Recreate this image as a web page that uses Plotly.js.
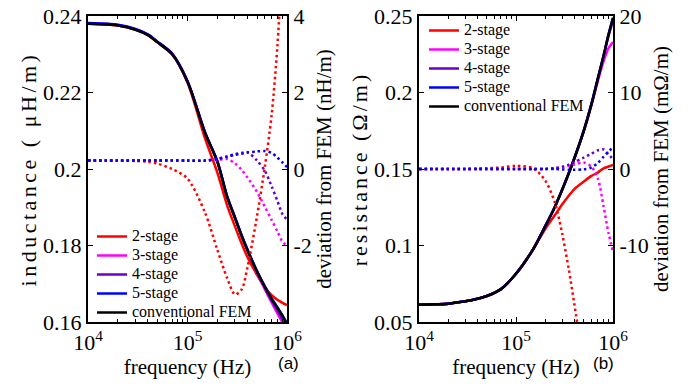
<!DOCTYPE html>
<html>
<head>
<meta charset="utf-8">
<script src="https://cdn.plot.ly/plotly-3.0.1.min.js"></script>
<style>
html,body{margin:0;padding:0;background:#fff;}
#chart{width:694px;height:390px;}
</style>
</head>
<body>
<div id="chart"></div>
<script>
// ---------- data ----------
const freq = [1e4,1.5e4,2e4,3e4,4e4,5e4,7e4,1e5,1.5e5,2e5,2.5e5,3e5,3.5e5,4e5,5e5,6e5,7e5,8e5,9e5,1e6];

// inductance (uH/m)
const L_fem = [0.2380,0.2378,0.2375,0.2364,0.2350,0.2331,0.2300,0.2228,0.2094,0.2018,0.1927,0.1872,0.1825,0.1788,0.1731,0.1691,0.1660,0.1637,0.1616,0.1595];
const L_2st = [0.2380,0.2378,0.2375,0.2364,0.2350,0.2331,0.2300,0.2226,0.2080,0.1990,0.1905,0.1850,0.1805,0.1770,0.1723,0.1690,0.1670,0.1658,0.1650,0.1644];
const L_3st = [0.2381,0.2379,0.2376,0.2365,0.2351,0.2332,0.2301,0.2229,0.2095,0.2019,0.1928,0.1873,0.1825,0.1787,0.1728,0.1685,0.1651,0.1623,0.1598,0.1575];
const L_4st = [0.2381,0.2379,0.2376,0.2365,0.2351,0.2332,0.2301,0.2229,0.2095,0.2019,0.1928,0.1873,0.1826,0.1789,0.1732,0.1690,0.1657,0.1631,0.1607,0.1583];
const L_5st = [0.2382,0.2380,0.2377,0.2366,0.2352,0.2333,0.2302,0.2230,0.2096,0.2020,0.1929,0.1874,0.1827,0.1790,0.1733,0.1693,0.1662,0.1639,0.1617,0.1596];

// inductance deviation from FEM (nH/m)
const dL_2st = [0.22,0.22,0.22,0.21,0.19,0.14,0.00,-0.25,-1.14,-2.12,-2.85,-3.28,-3.15,-2.58,-1.23,0.07,1.40,3.20,5.50,null];
const dL_3st = [0.22,0.22,0.22,0.22,0.22,0.22,0.22,0.22,0.22,0.24,0.26,0.15,-0.02,-0.22,-0.60,-0.99,-1.33,-1.63,-1.90,-2.00];
const dL_4st = [0.22,0.22,0.22,0.22,0.22,0.22,0.22,0.22,0.22,0.27,0.33,0.39,0.42,0.44,0.22,-0.05,-0.45,-0.83,-1.18,-1.32];
const dL_5st = [0.22,0.22,0.22,0.22,0.22,0.22,0.22,0.22,0.22,0.26,0.32,0.37,0.40,0.43,0.46,0.47,0.42,0.30,0.17,0.05];

// resistance (Ohm/m)
const R_fem = [0.0612,0.0616,0.0620,0.0635,0.0652,0.0670,0.0715,0.0815,0.0975,0.1125,0.1248,0.1366,0.1472,0.1570,0.1750,0.1924,0.2094,0.2240,0.2378,0.2485];
const R_2st = [0.0612,0.0616,0.0620,0.0635,0.0652,0.0670,0.0715,0.0815,0.0975,0.1108,0.1196,0.1269,0.1325,0.1369,0.1418,0.1455,0.1478,0.1504,0.1516,0.1526];
const R_3st = [0.0612,0.0616,0.0620,0.0635,0.0652,0.0670,0.0715,0.0815,0.0975,0.1125,0.1248,0.1366,0.1472,0.1570,0.1748,0.1918,0.2078,0.2205,0.2290,0.2330];
const R_4st = [0.0612,0.0616,0.0620,0.0635,0.0652,0.0670,0.0715,0.0815,0.0975,0.1125,0.1248,0.1366,0.1473,0.1572,0.1752,0.1927,0.2096,0.2240,0.2370,0.2470];
const R_5st = [0.0612,0.0616,0.0620,0.0635,0.0652,0.0670,0.0715,0.0815,0.0975,0.1125,0.1248,0.1366,0.1472,0.1570,0.1750,0.1924,0.2094,0.2242,0.2382,0.2490];

// resistance deviation from FEM (mOhm/m)
const dR_2st = [0,0,0,0,0.05,0.1,0.2,0.4,0.1,-1.5,-4.27,-8.5,-13.1,-17.7,-26,null,null,null,null,null];
const dR_3st = [0,0,0,0,0,0,0,0,0,0,0.1,0.2,0.4,0.6,0.85,0.3,-1.3,-4.9,-8.4,-10.8];
const dR_4st = [0,0,0,0,0,0,0,0,0,0,0.1,0.3,0.55,0.9,1.5,2.0,2.45,2.55,1.9,1.3];
const dR_5st = [0,0,0,0,0,0,0,0,0,0,0,-0.05,-0.1,-0.1,-0.05,0.2,0.8,1.6,2.3,2.8];

const seriesNames = ['2-stage','3-stage','4-stage','5-stage','conventional FEM'];
const seriesColors = ['#ff0000','#ff00ff','#6a00cc','#0000ff','#000000'];

const xTickVals = [1e4,1e5,1e6];
const xTickText = ['10<sup>4</sup>','10<sup>5</sup>','10<sup>6</sup>'];
const xMinorVals = [2e4,3e4,4e4,5e4,6e4,7e4,8e4,9e4,2e5,3e5,4e5,5e5,6e5,7e5,8e5,9e5];
const yLTickVals = [0.16,0.18,0.2,0.22,0.24];
const yLTickText = ['0.16','0.18','0.2','0.22','0.24'];
const yLdTickVals = [-4,-2,0,2,4];
const yLdTickText = ['','-2','0','2','4'];
const yRTickVals = [0.05,0.1,0.15,0.2,0.25];
const yRTickText = ['0.05','0.1','0.15','0.2','0.25'];
const yRdTickVals = [-20,-10,0,10,20];
const yRdTickText = ['','-10','0','10','20'];

// ---------- traces ----------
const SERIF = '"Liberation Serif", "Times New Roman", serif';
const SANS = '"Liberation Sans", Arial, sans-serif';
const solidL = [L_2st, L_3st, L_4st, L_5st, L_fem];
const solidR = [R_2st, R_3st, R_4st, R_5st, R_fem];
const dotL = [dL_2st, dL_3st, dL_4st, dL_5st];
const dotR = [dR_2st, dR_3st, dR_4st, dR_5st];

function legName(n){ return '<span style="font-size:16px">' + n + '</span>'; }
function spaced(t, px){ return '<span style="letter-spacing:' + px + 'px">' + t + '</span>'; }

const traces = [];
solidL.forEach((ys, i) => traces.push({
  x: freq, y: ys, xaxis: 'x', yaxis: 'y', type: 'scatter', mode: 'lines',
  name: legName(seriesNames[i]), legend: 'legend',
  line: {color: seriesColors[i], width: 2.5, shape: 'spline', smoothing: 0.8}
}));
dotL.forEach((ys, i) => traces.push({
  x: freq, y: ys, xaxis: 'x', yaxis: 'y2', type: 'scatter', mode: 'lines',
  name: seriesNames[i], showlegend: false,
  line: {color: seriesColors[i], width: 2.5, dash: '2.5px,3px', shape: 'spline', smoothing: 0.8}
}));
solidR.forEach((ys, i) => traces.push({
  x: freq, y: ys, xaxis: 'x2', yaxis: 'y3', type: 'scatter', mode: 'lines',
  name: legName(seriesNames[i]), legend: 'legend2',
  line: {color: seriesColors[i], width: 2.5, shape: 'spline', smoothing: 0.8}
}));
dotR.forEach((ys, i) => traces.push({
  x: freq, y: ys, xaxis: 'x2', yaxis: 'y4', type: 'scatter', mode: 'lines',
  name: seriesNames[i], showlegend: false,
  line: {color: seriesColors[i], width: 2.5, dash: '2.5px,3px', shape: 'spline', smoothing: 0.8}
}));

// ---------- layout ----------
const W = 694, H = 390;
const yDom = [(H - 322) / H, (H - 16) / H];
function f(fam, size) { return {family: fam, size: size, color: '#000'}; }

function xAxis(dom, anchor) {
  return {
    domain: dom, anchor: anchor, type: 'log', range: [4, 6],
    tickmode: 'array', tickvals: xTickVals, ticktext: xTickText,
    ticks: 'inside', ticklen: 5, tickwidth: 1, tickcolor: '#000',
    minor: {tickmode: 'array', tickvals: xMinorVals, ticks: 'inside', ticklen: 3, tickcolor: '#000', showgrid: false},
    showline: true, linecolor: '#000', linewidth: 2, mirror: 'ticks',
    showgrid: false, zeroline: false, tickfont: f(SERIF, 22), automargin: false,
    title: {text: 'frequency (Hz)', font: f(SERIF, 21), standoff: 0}
  };
}
function yAxis(range, tv, tt, anchor, extra) {
  return Object.assign({
    range: range, anchor: anchor, domain: yDom,
    tickmode: 'array', tickvals: tv, ticktext: tt,
    ticks: 'inside', ticklen: 5, tickwidth: 1, tickcolor: '#000',
    showline: true, linecolor: '#000', linewidth: 2,
    showgrid: false, zeroline: false, tickfont: f(SERIF, 22), automargin: false
  }, extra);
}

const layout = {
  width: W, height: H,
  margin: {l: 0, r: 0, t: 0, b: 0},
  paper_bgcolor: '#fff', plot_bgcolor: 'rgba(0,0,0,0)',
  font: {family: SERIF, color: '#000'},
  xaxis: xAxis([88 / W, 287 / W], 'y'),
  xaxis2: xAxis([419 / W, 613 / W], 'y3'),
  yaxis: yAxis([0.16, 0.24], yLTickVals, yLTickText, 'x',
    {title: {text: spaced('inductance ( μH/m)', 3.5), font: f(SERIF, 22), standoff: 0}}),
  yaxis2: yAxis([-4, 4], yLdTickVals, yLdTickText, 'x',
    {overlaying: 'y', side: 'right', title: {text: 'deviation from FEM (nH/m)', font: f(SERIF, 21), standoff: 4}}),
  yaxis3: yAxis([0.05, 0.25], yRTickVals, yRTickText, 'x2',
    {title: {text: spaced('resistance (Ω/m)', 3), font: f(SERIF, 22), standoff: 0}}),
  yaxis4: yAxis([-20, 20], yRdTickVals, yRdTickText, 'x2',
    {overlaying: 'y3', side: 'right', title: {text: 'deviation from FEM (mΩ/m)', font: f(SERIF, 21), standoff: 4}}),
  legend: {x: 92 / W, y: (H - 222) / H, xanchor: 'left', yanchor: 'top',
    bgcolor: 'rgba(0,0,0,0)', borderwidth: 0, font: f(SERIF, 11.5)},
  legend2: {x: 424 / W, y: (H - 16) / H, xanchor: 'left', yanchor: 'top',
    bgcolor: 'rgba(0,0,0,0)', borderwidth: 0, font: f(SERIF, 11.5)},
  annotations: [
    {text: '(a)', x: 288 / W, y: (H - 375) / H, xref: 'paper', yref: 'paper', showarrow: false,
     font: f(SANS, 17)},
    {text: '(b)', x: 616 / W, y: (H - 375) / H, xref: 'paper', yref: 'paper', showarrow: false,
     font: f(SANS, 17)}
  ],
  showlegend: true
};

Plotly.newPlot('chart', traces, layout, {staticPlot: true, displayModeBar: false});
</script>
</body>
</html>
